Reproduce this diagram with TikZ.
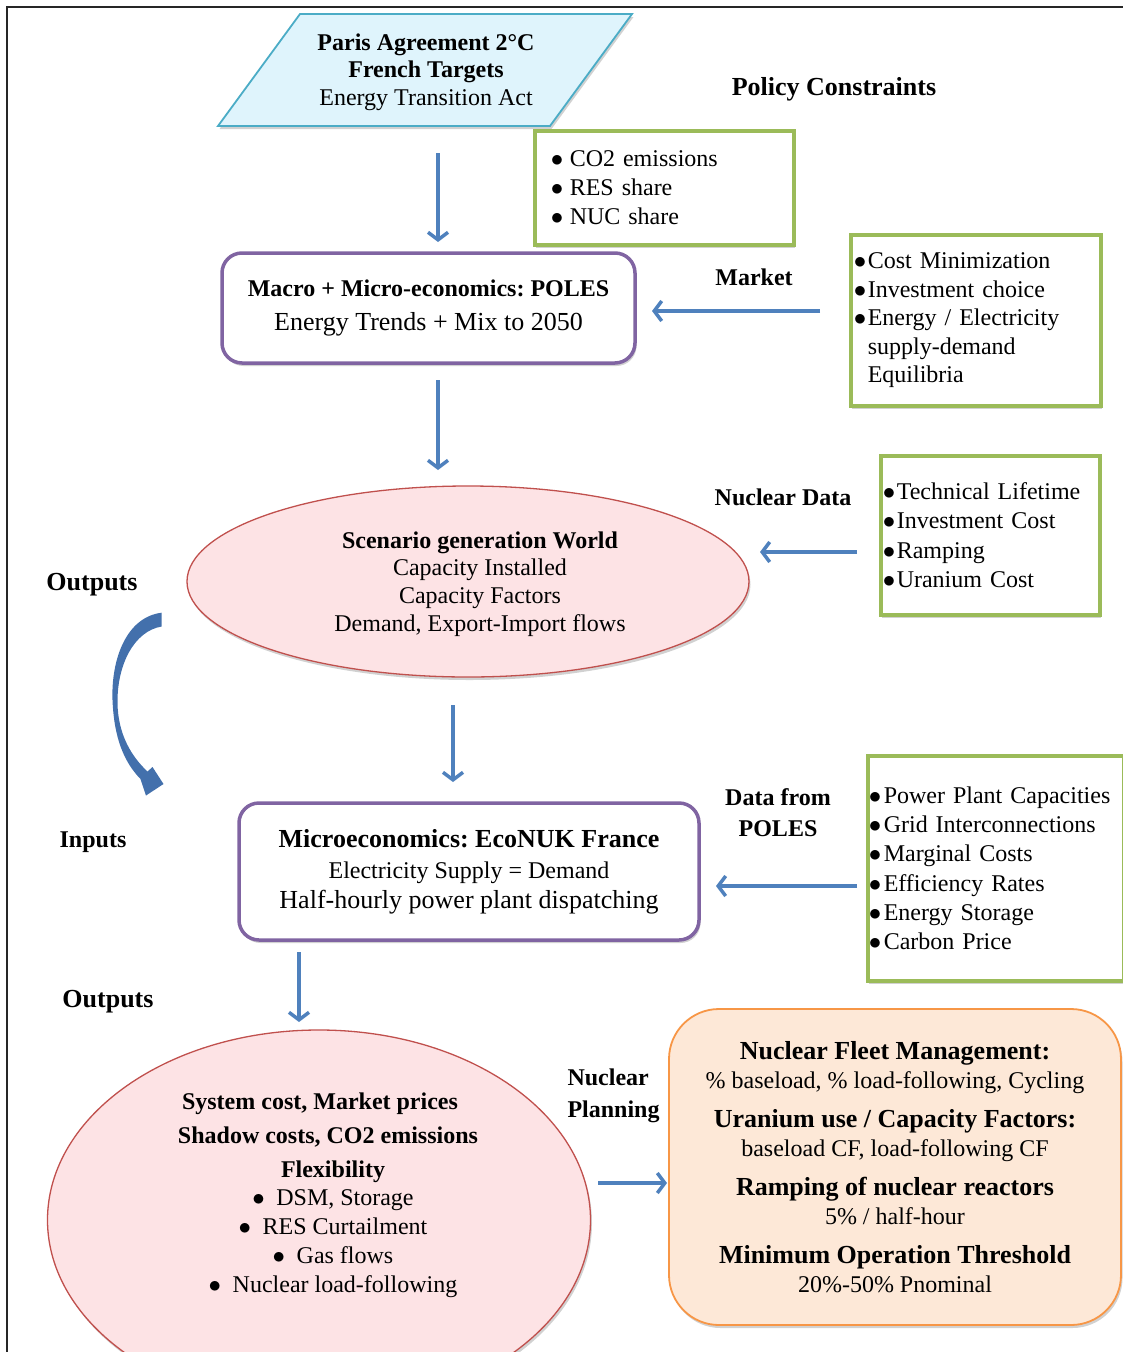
\documentclass[tikz,border=0pt]{standalone}
\usepackage{fontspec}
\setmainfont{Liberation Serif}
\usetikzlibrary{arrows.meta,shapes.geometric,shadows}
\definecolor{arrowblue}{HTML}{4F81BD}
\definecolor{curvblue}{HTML}{4370AC}
\definecolor{greenb}{HTML}{9BBB59}
\definecolor{purpleb}{HTML}{8064A2}
\definecolor{redb}{HTML}{C0504D}
\definecolor{pinkfill}{HTML}{FDE3E5}
\definecolor{orangeb}{HTML}{F79646}
\definecolor{peach}{HTML}{FDE8D7}
\definecolor{cyanfill}{HTML}{DFF4FC}
\definecolor{cyanb}{HTML}{4BACC6}
\newcommand\mybul[1]{\makebox[#1][l]{$\bullet$}}
\frenchspacing
\begin{document}
\frenchspacing
\begin{tikzpicture}[x=1pt,y=-1pt,
  arr/.style={draw=arrowblue, line width=3.5pt, -{Straight Barb[length=7.5pt,width=20pt]}},
  shad/.style={drop shadow={shadow xshift=1.5pt, shadow yshift=-3pt, opacity=0.3, fill=black!60}},
  greenbox/.style={draw=greenb, line width=3.5pt, fill=white, rectangle, align=left, anchor=north west,
    font=\fontsize{24}{29.3}\selectfont, inner ysep=0pt, shad},
  purplebox/.style={draw=purpleb, line width=3.5pt, fill=white, rectangle, rounded corners=20pt, align=center, shad},
  ell/.style={draw=redb, line width=1.3pt, fill=pinkfill, ellipse, inner sep=0pt, shad},
  lab/.style={font=\fontsize{24}{31}\selectfont\bfseries, align=center},
  biglab/.style={font=\fontsize{26}{31}\selectfont\bfseries, align=center}
]
\useasboundingbox (0,0) rectangle (1123,1352);

% frame
\draw[line width=2pt, black!85] (7,1352) -- (7,7) -- (1123,7);

% Paris parallelogram
\filldraw[fill=cyanfill, draw=cyanb, line width=1.8pt, shad] (218,126) -- (300,14) -- (632,14) -- (550,126) -- cycle;
\node[align=center, font=\fontsize{24}{27.5}\selectfont] (paris) at (426,72)
  {\textbf{Paris Agreement 2°C}\\ \textbf{French Targets}\\ Energy Transition Act};

% labels
\node[biglab] (policy) at (834,89) {Policy Constraints};
\node[lab] (market) at (754,277) {Market};
\node[lab] (nucdata) at (783,497) {Nuclear Data};
\node[biglab] (outputs1) at (92,585) {Outputs};
\node[lab] (inputs) at (93,842) {Inputs};
\node[lab] (datafrom) at (778,813) {Data from\\POLES};
\node[biglab] (outputs2) at (108,1002) {Outputs};
\node[lab, align=left, anchor=west, font=\fontsize{24}{32}\selectfont\bfseries] (nucplan) at (564,1096) {Nuclear\\Planning};

% green boxes
\node[greenbox, minimum width=259pt, minimum height=114pt, inner xsep=16pt, text width=227pt] (g1) at (533,129)
  {\mybul{19pt}CO2 emissions\\ \mybul{19pt}RES share\\ \mybul{19pt}NUC share};
\node[greenbox, minimum width=250pt, minimum height=171pt, inner xsep=3pt, text width=244pt,
  font=\fontsize{24}{28.5}\selectfont] (g2) at (849,233)
  {\mybul{14pt}Cost Minimization\\ \mybul{14pt}Investment choice\\ \mybul{14pt}Energy / Electricity\\ \hspace*{14pt}supply-demand\\ \hspace*{14pt}Equilibria};
\node[greenbox, minimum width=219pt, minimum height=159pt, inner xsep=2pt, text width=215pt] (g3) at (879,454)
  {\mybul{14pt}Technical Lifetime\\ \mybul{14pt}Investment Cost\\ \mybul{14pt}Ramping\\ \mybul{14pt}Uranium Cost};
\node[greenbox, minimum width=256pt, minimum height=225pt, inner xsep=1pt, text width=254pt] (g4) at (866,754)
  {\mybul{15pt}Power Plant Capacities\\ \mybul{15pt}Grid Interconnections\\ \mybul{15pt}Marginal Costs\\ \mybul{15pt}Efficiency Rates\\ \mybul{15pt}Energy Storage\\ \mybul{15pt}Carbon Price};

% purple boxes
\node[purplebox, minimum width=413pt, minimum height=110pt, font=\fontsize{24}{34}\selectfont] (macro) at (428.5,308)
  {\textbf{Macro + Micro-economics: POLES}\\ {\fontsize{26}{34}\selectfont Energy Trends + Mix to 2050}};
\node[purplebox, minimum width=460pt, minimum height=137pt, font=\fontsize{24}{31}\selectfont] (micro) at (469,871.5)
  {{\fontsize{26}{31}\selectfont\bfseries Microeconomics: EcoNUK France}\\ Electricity Supply = Demand\\[-1pt] {\fontsize{26}{31}\selectfont Half-hourly power plant dispatching}};

% ellipse 1
\node[ell, minimum width=562pt, minimum height=191pt] (scen) at (468,581.5) {};
\node[align=center, font=\fontsize{24}{27.7}\selectfont] (scentext) at (480,584)
  {\textbf{Scenario generation World}\\ Capacity Installed\\ Capacity Factors\\ Demand, Export-Import flows};

% ellipse 2
\node[ell, minimum width=543pt, minimum height=380pt] (sys) at (319,1220) {};
\node[align=center, font=\fontsize{24}{29}\selectfont] (systext) at (328,1195)
  {\textbf{System cost, Market prices}\hspace*{16pt}\\[5pt]
   \textbf{Shadow costs, CO2 emissions}\\[5pt]
   \hspace*{10pt}\textbf{Flexibility}\\[-1pt]
   \hspace*{10pt}\mybul{24pt}DSM, Storage\\
   \hspace*{10pt}\mybul{24pt}RES Curtailment\\
   \hspace*{10pt}\mybul{24pt}Gas flows\\
   \hspace*{10pt}\mybul{24pt}Nuclear load-following};

% orange box
\node[draw=orangeb, line width=1.8pt, fill=peach, rectangle, rounded corners=50pt, shad,
  minimum width=452pt, minimum height=316pt, align=center, font=\fontsize{24}{29}\selectfont] (nuc) at (895,1167)
  {{\fontsize{26}{29}\selectfont\bfseries Nuclear Fleet Management:}\\
   \% baseload, \% load-following, Cycling\\[10pt]
   {\fontsize{26}{29}\selectfont\bfseries Uranium use / Capacity Factors:}\\
   baseload CF, load-following CF\\[10pt]
   {\fontsize{26}{29}\selectfont\bfseries Ramping of nuclear reactors}\\
   5\% / half-hour\\[10pt]
   {\fontsize{26}{29}\selectfont\bfseries Minimum Operation Threshold}\\
   20\%-50\% Pnominal};

% arrow end coordinates
\coordinate (a1s) at (438,153);  \coordinate (a1e) at (438,242);
\coordinate (a2s) at (820,311);  \coordinate (a2e) at (652,311);
\coordinate (a3s) at (438,380);  \coordinate (a3e) at (438,470);
\coordinate (a4s) at (857,552);  \coordinate (a4e) at (760,552);
\coordinate (a5s) at (453,705);  \coordinate (a5e) at (453,782);
\coordinate (a6s) at (857,886);  \coordinate (a6e) at (716,886);
\coordinate (a7s) at (299,952);  \coordinate (a7e) at (299,1022);
\coordinate (a8s) at (598,1183); \coordinate (a8e) at (667,1183);

\draw[arr] (a1s) -- (a1e);
\draw[arr] (a2s) -- (a2e);
\draw[arr] (a3s) -- (a3e);
\draw[arr] (a4s) -- (a4e);
\draw[arr] (a5s) -- (a5e);
\draw[arr] (a6s) -- (a6e);
\draw[arr] (a7s) -- (a7e);
\draw[arr] (a8s) -- (a8e);

% curved block arrow
\fill[curvblue] (161.7,612.7) .. controls (126,617) and (111,660) .. (112.5,700)
  .. controls (114,738) and (124,762) .. (140.5,779)
  -- (146,795.5) -- (163.5,784) -- (152.5,767) -- (147.5,771.5)
  .. controls (132,757) and (118,735) .. (117.5,703)
  .. controls (117,665) and (134,631) .. (161.7,626.5) -- cycle;
\end{tikzpicture}
\end{document}
